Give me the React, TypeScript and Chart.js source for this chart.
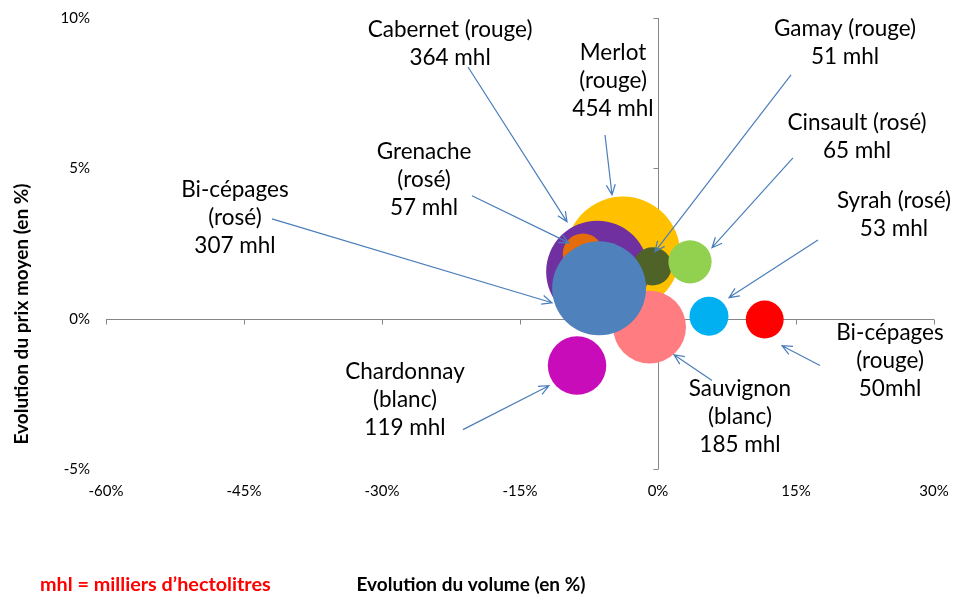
import { useEffect, useRef } from "react";
import { Chart, registerables } from "chart.js";

Chart.register(...registerables);

// ---- Data (draw order: first drawn at the back) ----
const cepages = [
  "Merlot (rouge)",
  "Cabernet (rouge)",
  "Grenache (rosé)",
  "Gamay (rouge)",
  "Cinsault (rosé)",
  "Syrah (rosé)",
  "Bi-cépages (rouge)",
  "Sauvignon (blanc)",
  "Chardonnay (blanc)",
  "Bi-cépages (rosé)",
];
const volumeEvolution = [-3.8, -6.6, -8.15, -0.6, 3.48, 5.54, 11.6, -0.92, -8.8, -6.4];
const priceEvolution = [2.16, 1.56, 2.16, 1.74, 1.89, 0.08, -0.03, -0.28, -1.56, 1.01];
const volumesMhl = [454, 364, 57, 51, 65, 53, 50, 185, 119, 307];
const bubbleColors = [
  "#FFC000",
  "#7030A0",
  "#E46C0A",
  "#4F6228",
  "#92D050",
  "#00B0F0",
  "#FF0000",
  "#FF7C80",
  "#C80CB9",
  "#4F81BD",
];

const xTicks = [-60, -45, -30, -15, 0, 15, 30];
const yTicks = [-5, 0, 5, 10];

const xTitle = "Evolution du volume (en %)";
const yTitle = "Evolution du prix moyen (en %)";
const noteText = "mhl = milliers d’hectolitres";

// Callout labels: text lines, label anchor (data units), arrow from -> to (data units)
const calloutLines = [
  ["Cabernet (rouge)", "364 mhl"],
  ["Merlot", "(rouge)", "454 mhl"],
  ["Gamay (rouge)", "51 mhl"],
  ["Cinsault (rosé)", "65 mhl"],
  ["Syrah (rosé)", "53 mhl"],
  ["Grenache", "(rosé)", "57 mhl"],
  ["Bi-cépages", "(rosé)", "307 mhl"],
  ["Chardonnay", "(blanc)", "119 mhl"],
  ["Sauvignon", "(blanc)", "185 mhl"],
  ["Bi-cépages", "(rouge)", "50mhl"],
];
const calloutAnchors: [number, number][] = [
  [-22.6, 9.6],
  [-4.89, 8.84],
  [20.33, 9.63],
  [21.63, 6.51],
  [25.65, 3.92],
  [-25.43, 5.55],
  [-45.98, 4.29],
  [-27.5, -1.76],
  [8.91, -2.33],
  [25.22, -0.47],
];
const arrowFrom: [number, number][] = [
  [-20.65, 8.37],
  [-5.76, 6.11],
  [14.46, 8.11],
  [14.67, 5.35],
  [17.39, 2.62],
  [-20.22, 4.09],
  [-41.96, 3.32],
  [-21.2, -3.69],
  [5.87, -2.06],
  [17.61, -1.56],
];
const arrowTo: [number, number][] = [
  [-9.89, 3.22],
  [-5.0, 4.12],
  [-0.33, 2.23],
  [5.87, 2.36],
  [7.72, 0.7],
  [-9.67, 2.52],
  [-11.52, 0.53],
  [-11.85, -2.23],
  [1.74, -1.2],
  [13.48, -0.9],
];

const FONT = 'Lato, "Open Sans", "Noto Sans", sans-serif';
const BUBBLE_SCALE = 2.68; // px per sqrt(mhl)

export default function App() {
  const canvasRef = useRef<HTMLCanvasElement | null>(null);

  useEffect(() => {
    const canvas = canvasRef.current;
    if (!canvas) return;

    const axesPlugin = {
      id: "crossAxes",
      beforeDatasetsDraw(chart: any) {
        const { ctx, scales } = chart;
        const xs = scales.x;
        const ys = scales.y;
        const x0 = Math.round(xs.getPixelForValue(0)) + 0.5;
        const y0 = Math.round(ys.getPixelForValue(0)) + 0.5;
        ctx.save();
        ctx.strokeStyle = "#868686";
        ctx.lineWidth = 1;
        ctx.beginPath();
        ctx.moveTo(xs.left, y0);
        ctx.lineTo(xs.right, y0);
        xTicks.forEach((t) => {
          const px = Math.round(xs.getPixelForValue(t)) + 0.5;
          ctx.moveTo(px, y0);
          ctx.lineTo(px, y0 + 5);
        });
        ctx.moveTo(x0, ys.top);
        ctx.lineTo(x0, ys.bottom);
        yTicks.forEach((t) => {
          const py = Math.round(ys.getPixelForValue(t)) + 0.5;
          ctx.moveTo(x0, py);
          ctx.lineTo(x0 - 5, py);
        });
        ctx.stroke();
        ctx.restore();
      },
      afterDatasetsDraw(chart: any) {
        const { ctx, scales } = chart;
        const xs = scales.x;
        const ys = scales.y;
        ctx.save();
        // arrows
        ctx.strokeStyle = "#4A7EBB";
        ctx.lineWidth = 1.2;
        arrowFrom.forEach((f, i) => {
          const t = arrowTo[i];
          const x1 = xs.getPixelForValue(f[0]);
          const y1 = ys.getPixelForValue(f[1]);
          const x2 = xs.getPixelForValue(t[0]);
          const y2 = ys.getPixelForValue(t[1]);
          const ang = Math.atan2(y2 - y1, x2 - x1);
          const head = 11;
          const spread = 0.42;
          ctx.beginPath();
          ctx.moveTo(x1, y1);
          ctx.lineTo(x2, y2);
          ctx.moveTo(x2 - head * Math.cos(ang - spread), y2 - head * Math.sin(ang - spread));
          ctx.lineTo(x2, y2);
          ctx.lineTo(x2 - head * Math.cos(ang + spread), y2 - head * Math.sin(ang + spread));
          ctx.stroke();
        });
        // callout texts
        ctx.fillStyle = "#000";
        ctx.font = `22.5px ${FONT}`;
        ctx.textAlign = "center";
        ctx.textBaseline = "middle";
        calloutLines.forEach((lines, i) => {
          const cx = xs.getPixelForValue(calloutAnchors[i][0]);
          const cy = ys.getPixelForValue(calloutAnchors[i][1]);
          lines.forEach((line, j) => {
            ctx.fillText(line, cx, cy + j * 28);
          });
        });
        // titles
        ctx.font = `bold 19px ${FONT}`;
        ctx.fillStyle = "#000";
        ctx.textAlign = "center";
        ctx.fillText(xTitle, 471, 585);
        ctx.save();
        ctx.translate(22, 314);
        ctx.rotate(-Math.PI / 2);
        ctx.fillText(yTitle, 0, 0);
        ctx.restore();
        ctx.fillStyle = "#FF0000";
        ctx.textAlign = "left";
        ctx.font = `bold 19.8px ${FONT}`;
        ctx.fillText(noteText, 40, 585);
        ctx.restore();
      },
    };

    const chart = new Chart(canvas, {
      type: "bubble",
      data: {
        datasets: [
          {
            label: "Cépages",
            data: cepages.map((_, i) => ({
              x: volumeEvolution[i],
              y: priceEvolution[i],
              r: BUBBLE_SCALE * Math.sqrt(volumesMhl[i]),
            })),
            backgroundColor: bubbleColors,
            borderWidth: 0,
            hoverBorderWidth: 0,
          },
        ],
      },
      options: {
        responsive: false,
        animation: false,
        events: [],
        layout: { autoPadding: false, padding: { top: 18, right: 22, left: 0, bottom: 0 } },
        plugins: {
          legend: { display: false },
          tooltip: { enabled: false },
          title: { display: false },
        },
        scales: {
          x: {
            type: "linear",
            min: -60,
            max: 30,
            afterFit: (s: any) => {
              s.height = 125;
              s.paddingLeft = 0;
              s.paddingRight = 0;
              s.paddingTop = 0;
              s.paddingBottom = 0;
            },
            afterBuildTicks: (s: any) => {
              s.ticks = xTicks.map((v) => ({ value: v }));
            },
            grid: { display: false, drawTicks: false },
            border: { display: false },
            ticks: {
              padding: 13,
              color: "#000",
              font: { family: FONT, size: 15 },
              callback: (v: any) => `${v}%`,
              maxRotation: 0,
              autoSkip: false,
            },
          },
          y: {
            type: "linear",
            min: -5,
            max: 10,
            afterFit: (s: any) => {
              s.width = 106;
              s.paddingLeft = 0;
              s.paddingRight = 0;
              s.paddingTop = 0;
              s.paddingBottom = 0;
            },
            afterBuildTicks: (s: any) => {
              s.ticks = yTicks.map((v) => ({ value: v }));
            },
            grid: { display: false, drawTicks: false },
            border: { display: false },
            ticks: {
              padding: 16,
              color: "#000",
              font: { family: FONT, size: 15 },
              callback: (v: any) => `${v}%`,
              autoSkip: false,
            },
          },
        },
      },
      plugins: [axesPlugin],
    });

    return () => chart.destroy();
  }, []);

  return (
    <div style={{ position: "fixed", left: 0, top: 0, width: 956, height: 594, background: "#fff" }}>
      <canvas ref={canvasRef} width={956} height={594} style={{ display: "block" }} />
    </div>
  );
}
